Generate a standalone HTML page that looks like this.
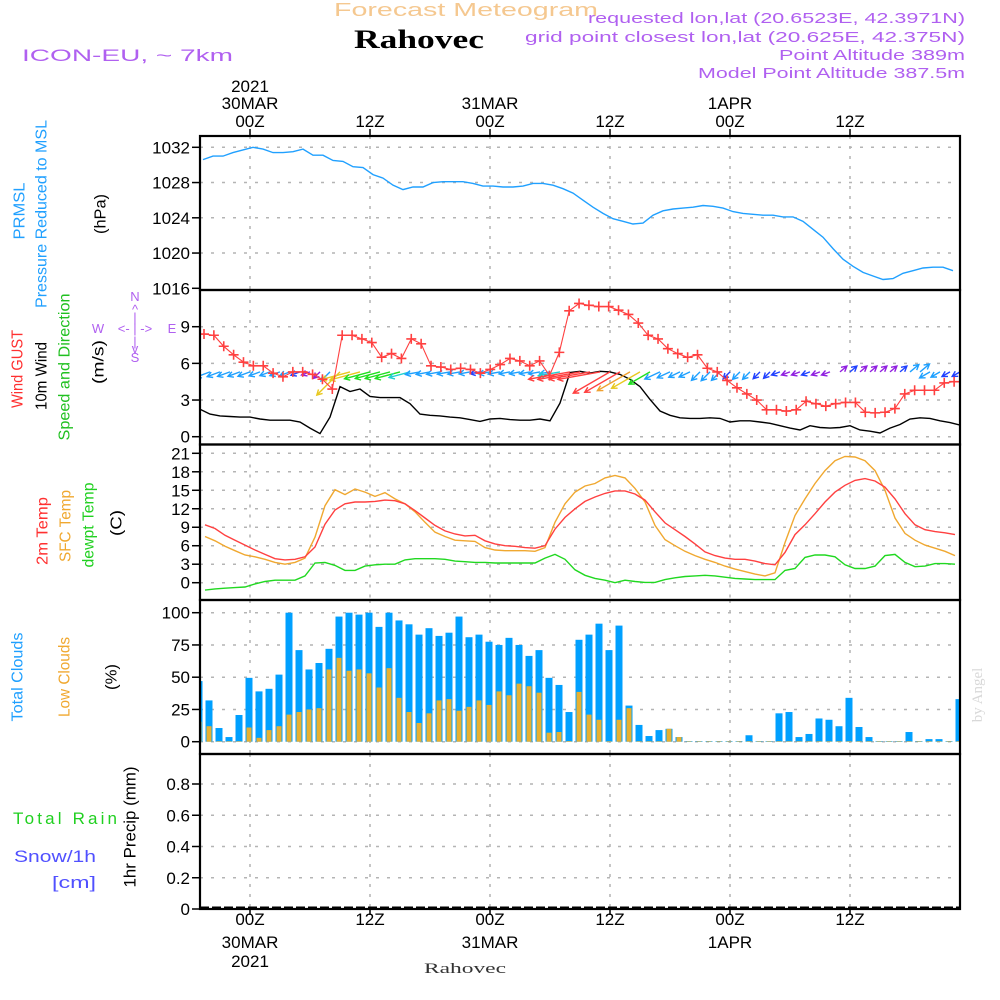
<!DOCTYPE html>
<html><head><meta charset="utf-8"><title>Meteogram Rahovec</title>
<style>
html,body{margin:0;padding:0;background:#fff;}
svg{display:block;font-family:"Liberation Sans",sans-serif;}
.tk{font-size:17px;fill:#000;}
.lab{font-size:16px;}
</style></head>
<body>
<svg id="chart" width="1000" height="1000" viewBox="0 0 1000 1000" xmlns="http://www.w3.org/2000/svg">
<rect x="0" y="0" width="1000" height="1000" fill="#fff"/>
<text x="466" y="16" text-anchor="middle" font-size="18" fill="#f5c890" textLength="264" lengthAdjust="spacingAndGlyphs">Forecast Meteogram</text>
<text x="419" y="48" text-anchor="middle" font-family="Liberation Serif, serif" font-weight="bold" font-size="26" fill="#000" textLength="130" lengthAdjust="spacingAndGlyphs">Rahovec</text>
<text x="22" y="61" font-size="17" fill="#b060f0" textLength="211" lengthAdjust="spacingAndGlyphs">ICON-EU, ~ 7km</text>
<g fill="#b060f0" font-size="15" text-anchor="end">
<text x="965" y="23" textLength="377" lengthAdjust="spacingAndGlyphs">requested lon,lat (20.6523E, 42.3971N)</text>
<text x="965" y="42" textLength="440" lengthAdjust="spacingAndGlyphs">grid point closest lon,lat (20.625E, 42.375N)</text>
<text x="965" y="60" textLength="186" lengthAdjust="spacingAndGlyphs">Point Altitude 389m</text>
<text x="965" y="78" textLength="267" lengthAdjust="spacingAndGlyphs">Model Point Altitude 387.5m</text>
</g>
<g class="lab">
<text transform="rotate(-90 20 211)" x="20" y="211" text-anchor="middle" dominant-baseline="central" fill="#20a0ff" textLength="57" lengthAdjust="spacingAndGlyphs">PRMSL</text>
<text transform="rotate(-90 42 214)" x="42" y="214" text-anchor="middle" dominant-baseline="central" fill="#20a0ff" textLength="188" lengthAdjust="spacingAndGlyphs">Pressure Reduced to MSL</text>
<text transform="rotate(-90 101 214)" x="101" y="214" text-anchor="middle" dominant-baseline="central" fill="#000" textLength="40" lengthAdjust="spacingAndGlyphs">(hPa)</text>
<text transform="rotate(-90 18 369)" x="18" y="369" text-anchor="middle" dominant-baseline="central" fill="#ff3030" textLength="78" lengthAdjust="spacingAndGlyphs">Wind GUST</text>
<text transform="rotate(-90 42 376)" x="42" y="376" text-anchor="middle" dominant-baseline="central" fill="#000" textLength="68" lengthAdjust="spacingAndGlyphs">10m Wind</text>
<text transform="rotate(-90 65 367)" x="65" y="367" text-anchor="middle" dominant-baseline="central" fill="#20c020" textLength="147" lengthAdjust="spacingAndGlyphs">Speed and Direction</text>
<text transform="rotate(-90 99 362)" x="99" y="362" text-anchor="middle" dominant-baseline="central" fill="#000" textLength="44" lengthAdjust="spacingAndGlyphs">(m/s)</text>
<text transform="rotate(-90 43 531)" x="43" y="531" text-anchor="middle" dominant-baseline="central" fill="#ff3030" textLength="68" lengthAdjust="spacingAndGlyphs">2m Temp</text>
<text transform="rotate(-90 66 526)" x="66" y="526" text-anchor="middle" dominant-baseline="central" fill="#f0a830" textLength="72" lengthAdjust="spacingAndGlyphs">SFC Temp</text>
<text transform="rotate(-90 89 525)" x="89" y="525" text-anchor="middle" dominant-baseline="central" fill="#20d020" textLength="85" lengthAdjust="spacingAndGlyphs">dewpt Temp</text>
<text transform="rotate(-90 117 523)" x="117" y="523" text-anchor="middle" dominant-baseline="central" fill="#000" textLength="26" lengthAdjust="spacingAndGlyphs">(C)</text>
<text transform="rotate(-90 18 677)" x="18" y="677" text-anchor="middle" dominant-baseline="central" fill="#20a0ff" textLength="89" lengthAdjust="spacingAndGlyphs">Total Clouds</text>
<text transform="rotate(-90 65 677)" x="65" y="677" text-anchor="middle" dominant-baseline="central" fill="#f0a830" textLength="80" lengthAdjust="spacingAndGlyphs">Low Clouds</text>
<text transform="rotate(-90 112 677)" x="112" y="677" text-anchor="middle" dominant-baseline="central" fill="#000" textLength="26" lengthAdjust="spacingAndGlyphs">(%)</text>
<text x="13" y="824" fill="#20d020" font-size="17" textLength="104" lengthAdjust="spacing">Total   Rain</text>
<text x="14" y="862" fill="#5050ff" font-size="17" textLength="82" lengthAdjust="spacingAndGlyphs">Snow/1h</text>
<text x="52" y="888" fill="#5050ff" font-size="17" textLength="44" lengthAdjust="spacingAndGlyphs">[cm]</text>
<text transform="rotate(-90 130 827)" x="130" y="827" text-anchor="middle" dominant-baseline="central" fill="#000" font-size="17" textLength="121" lengthAdjust="spacingAndGlyphs">1hr Precip (mm)</text>
</g>
<g fill="#b060f0" font-size="13" text-anchor="middle">
<text x="135" y="301">N</text><text x="135" y="314">^</text><text x="135" y="322">|</text>
<text x="98" y="333">W</text><text x="135" y="333">&lt;- | -&gt;</text><text x="172" y="333">E</text>
<text x="135" y="346">|</text><text x="135" y="353">v</text><text x="135" y="362">S</text>
</g>
<text transform="rotate(-90 978 695)" x="978" y="695" text-anchor="middle" dominant-baseline="central" font-family="Liberation Serif, serif" font-size="15" fill="#d8d8d8">by Angel</text>
<text x="465" y="973" text-anchor="middle" font-family="Liberation Serif, serif" font-size="15" fill="#333" textLength="82" lengthAdjust="spacingAndGlyphs">Rahovec</text>
<g id="layer"></g>
</svg>
<script>
var timeTickHours = [0, 12, 24, 36, 48, 60];
var timeTickHour = ["00Z", "12Z", "00Z", "12Z", "00Z", "12Z"];
var timeTickDay = ["30MAR", "", "31MAR", "", "1APR", ""];
var timeTickYear = ["2021", "", "", "", "", ""];

var pressTicks = [1016, 1020, 1024, 1028, 1032];
var windTicks = [0, 3, 6, 9];
var tempTicks = [0, 3, 6, 9, 12, 15, 18, 21];
var cloudTicks = [0, 25, 50, 75, 100];
var precipTicks = [0, 0.2, 0.4, 0.6, 0.8];
var precipTickLabels = ["0", "0.2", "0.4", "0.6", "0.8"];

var pressStartHour = -4.7;
var pressure = [1030.6,1031.0,1031.0,1031.4,1031.7,1032.0,1031.8,1031.4,1031.4,1031.5,
1031.8,1031.1,1031.1,1030.5,1030.4,1029.8,1029.7,1028.9,1028.5,1027.7,
1027.2,1027.5,1027.5,1028.0,1028.1,1028.1,1028.1,1027.9,1027.6,1027.6,
1027.5,1027.5,1027.6,1027.9,1027.9,1027.7,1027.3,1026.8,1026.0,1025.2,
1024.5,1023.9,1023.6,1023.3,1023.4,1024.3,1024.8,1025.0,1025.1,1025.2,
1025.4,1025.3,1025.1,1024.7,1024.5,1024.4,1024.3,1024.3,1024.1,1024.1,
1023.6,1022.7,1021.8,1020.5,1019.3,1018.5,1017.8,1017.4,1017.0,1017.1,
1017.7,1018.0,1018.3,1018.4,1018.4,1018.0];

var gustStartHour = -4.6;
var windGust = [8.4,8.3,7.4,6.7,6.1,5.8,5.8,5.2,4.9,5.3,5.3,5.1,4.7,3.9,8.3,8.3,8.0,7.7,6.5,6.8,
6.4,8.0,7.6,5.8,5.7,5.5,5.6,5.5,5.2,5.5,5.9,6.4,6.2,5.8,6.2,5.0,6.9,10.3,10.9,
10.75,10.65,10.65,10.35,10.0,9.3,8.3,8.0,7.2,6.8,6.5,6.7,5.6,5.3,4.6,4.0,3.5,3.0,2.2,2.2,
2.1,2.2,2.9,2.7,2.5,2.7,2.8,2.8,2.0,1.95,2.0,2.3,3.5,3.8,3.8,3.8,4.4,4.5];

var windStartHour = -5;
var wind10m = [2.25,1.85,1.7,1.65,1.6,1.6,1.45,1.35,1.35,1.35,1.2,0.7,0.25,1.6,4.1,3.7,3.9,3.3,3.2,3.2,
3.2,2.7,1.85,1.75,1.7,1.6,1.55,1.4,1.25,1.45,1.5,1.4,1.35,1.35,1.45,1.3,2.75,5.25,
5.35,5.2,5.35,5.3,5.1,4.7,4.1,3.05,2.1,1.75,1.55,1.5,1.5,1.55,1.5,1.2,1.3,1.3,1.2,1.1,0.9,0.7,
0.55,0.9,0.75,0.7,0.75,0.9,0.55,0.45,0.3,0.7,1.0,1.45,1.55,1.5,1.3,1.15,0.95];
var windDirFrom = [70,70,70,70,70,70,70,70,70,70,70,70,
45,45,45,
75,75,75,75,75,75,75,
80,80,80,80,80,80,80,80,80,80,80,80,80,80,80,80,80,80,80,
60,60,60,60,60,
65,65,65,65,
45,45,45,45,45,45,45,45,
70,70,70,70,70,70,
230,230,230,230,230,230,230,230,230,
60,60,60,60];
var arrowBaseSpeed = 5.3;

var tempStartHour = -4.5;
var temp2m = [9.4,8.8,7.7,6.9,6.1,5.3,4.6,3.9,3.7,3.8,4.2,5.8,9.5,11.8,12.8,13.1,13.1,13.2,13.4,13.3,
12.8,11.7,10.5,9.3,8.4,7.9,7.6,7.7,6.8,6.3,6.0,5.9,5.7,5.6,6.0,8.7,10.6,12.0,13.2,13.9,
14.5,14.9,14.9,14.4,13.4,11.5,9.7,8.6,7.5,6.3,5.0,4.4,4.0,3.8,3.8,3.5,3.1,2.9,4.9,7.8,
9.4,11.2,13.1,14.7,15.8,16.6,16.9,16.5,15.5,13.6,11.2,9.4,8.6,8.3,8.1,7.8];
var tempSfc = [7.5,6.8,5.9,5.2,4.5,4.2,3.8,3.3,3.0,3.3,4.0,7.4,12.5,15.1,14.3,15.2,14.7,14.0,14.6,13.6,
12.8,11.5,9.8,8.2,7.5,6.9,6.8,6.7,5.7,5.3,5.2,5.2,5.2,5.1,5.7,9.8,12.8,14.7,15.7,16.1,
17.0,17.4,17.0,15.3,13.1,9.3,7.0,6.0,5.1,4.4,3.8,3.3,2.7,2.2,1.8,1.4,1.1,1.6,6.5,10.9,
13.6,16.1,18.2,19.8,20.5,20.4,19.8,18.2,15.0,10.5,8.0,6.9,6.1,5.6,5.1,4.4];
var tempDew = [-1.2,-1.0,-0.9,-0.8,-0.7,-0.2,0.2,0.4,0.4,0.4,1.1,3.2,3.3,2.8,2.0,2.0,2.7,2.9,3.0,3.0,
3.7,3.9,3.9,3.9,3.8,3.5,3.4,3.3,3.3,3.2,3.2,3.2,3.2,3.2,4.0,4.6,3.8,2.1,1.2,0.7,
0.4,0.0,0.4,0.2,0.05,0.05,0.5,0.8,1.0,1.1,1.2,1.1,0.9,0.7,0.6,0.5,0.5,0.5,2.0,2.3,
4.1,4.5,4.5,4.2,2.9,2.3,2.3,2.7,4.4,4.6,3.3,2.6,2.7,3.1,3.1,3.0];

var cloudStartHour = -5;
var totalClouds = [47,32,10.6,3.6,20.7,49.5,39,41,52,100,71,56,61,72,97,100,98.5,100,89,100,
94,91,83,88,82,84.5,97,81,83,77.5,75,80.5,75,66.5,71,49.5,44,23,79,83,
91.5,71,90,28,13,4.4,9,10,3.6,0.5,0.5,0.5,0.5,0.5,0.5,5,0.5,0.5,22,23,
3.6,6,18,17,12,34,11.4,3.6,0.5,0.5,0.5,7.5,0.5,2,2,0.5,33];
var lowClouds = [15.5,12,0,0,0,11,3,9,12,21,23,25,26,56,65,55,56,53,42,57,
34,23,14.5,22,32,33,24,27,32,28.5,39,36,45,43,38,7,7.5,0.5,38.6,21,
17,0,17,26,0,0,0,10,3.6,0,0,0,0,0,0,0,0,0,0,0,
0,0,0,0,0,0,0,0,0,0,0,0,0,0,0,0,0];

var X0 = 200, X1 = 960;
function xH(h){ return 250 + 10*h; }
function lin(v0,y0,v1,y1){ return function(v){ return y0 + (v - v0)*(y1 - y0)/(v1 - v0); }; }
var panels = [
 {name:"pressure", top:136, bot:290, y:lin(1016,288.3,1032,147.3), ticks:pressTicks, labels:pressTicks.map(String)},
 {name:"wind", top:290, bot:444.5, y:lin(0,436.7,9,326.7), ticks:windTicks, labels:windTicks.map(String)},
 {name:"temperature", top:444.5, bot:600, y:lin(0,582.7,21,453.3), ticks:tempTicks, labels:tempTicks.map(String)},
 {name:"clouds", top:600, bot:754, y:lin(0,741.7,100,612.7), ticks:cloudTicks, labels:cloudTicks.map(String)},
 {name:"precip", top:754, bot:909, y:lin(0,909,0.8,784), ticks:precipTicks, labels:precipTickLabels}
];
var NS = "http://www.w3.org/2000/svg";
var layer = document.getElementById("layer");
function mk(tag, parent){ var e = document.createElementNS(NS, tag); (parent||layer).appendChild(e); return e; }

var defs = mk("defs");
panels.forEach(function(p, i){
  var cp = mk("clipPath", defs); cp.setAttribute("id", "clip" + i);
  var r = mk("rect", cp); r.setAttribute("x", X0); r.setAttribute("y", p.top); r.setAttribute("width", X1 - X0); r.setAttribute("height", p.bot - p.top);
});

panels.forEach(function(p, i){
  var g = mk("g");
  
  
  p.ticks.forEach(function(t, j){
    var yy = p.y(t);
    if (Math.abs(yy - p.bot) > 2 && Math.abs(yy - p.top) > 2) {
      var gl = mk("line", g);
      
      
      gl.setAttribute("x1", X0); gl.setAttribute("x2", X1); gl.setAttribute("y1", yy); gl.setAttribute("y2", yy);
      gl.setAttribute("stroke", "#b4b4b4"); gl.setAttribute("stroke-width", "1.5"); gl.setAttribute("stroke-dasharray", "3,8");
    }
    var tk = mk("line", g);
    
    
    tk.setAttribute("x1", X0 - 8); tk.setAttribute("x2", X0); tk.setAttribute("y1", yy); tk.setAttribute("y2", yy);
    tk.setAttribute("stroke", "#000"); tk.setAttribute("stroke-width", "1.5");
    var tl = mk("text", g);
    
    
    tl.setAttribute("x", X0 - 10); tl.setAttribute("y", yy + 6); tl.setAttribute("text-anchor", "end"); tl.setAttribute("class", "tk");
    tl.textContent = p.labels[j];
  });
  timeTickHours.forEach(function(h){
    var vl = mk("line", g);
    
    
    vl.setAttribute("x1", xH(h)); vl.setAttribute("x2", xH(h)); vl.setAttribute("y1", p.top); vl.setAttribute("y2", p.bot);
    vl.setAttribute("stroke", "#b4b4b4"); vl.setAttribute("stroke-width", "1.5"); vl.setAttribute("stroke-dasharray", "3,7");
  });
});

function polyline(vals, start, step, yf, color, name, clipIdx, width){
  var pts = vals.map(function(v, i){ return xH(start + i*step).toFixed(1) + "," + yf(v).toFixed(1); }).join(" ");
  var pl = mk("polyline");
  
  
  pl.setAttribute("points", pts); pl.setAttribute("fill", "none"); pl.setAttribute("stroke", color);
  pl.setAttribute("stroke-width", width || 1.4); pl.setAttribute("clip-path", "url(#clip" + clipIdx + ")");
  return pl;
}

polyline(pressure, pressStartHour, 1, panels[0].y, "#20a0ff", "pressure-line", 0);

var cy = panels[3].y;
var cg = mk("g"); cg.setAttribute("clip-path", "url(#clip3)");


totalClouds.forEach(function(v, i){
  var xc = xH(cloudStartHour + i) - 1;
  var b = mk("rect", cg);
  
  
  b.setAttribute("x", xc - 3.5); b.setAttribute("width", 7); b.setAttribute("y", cy(v)); b.setAttribute("height", cy(0) - cy(v)); b.setAttribute("fill", "#00a0ff");
  var lv = lowClouds[i];
  var lb = mk("rect", cg);
  
  
  lb.setAttribute("x", xc - 2.5); lb.setAttribute("width", 5); lb.setAttribute("y", cy(Math.max(lv, 0.4))); lb.setAttribute("height", cy(0) - cy(Math.max(lv, 0.4))); lb.setAttribute("fill", "#e8b030");
});

polyline(tempDew, tempStartHour, 1, panels[2].y, "#20d820", "dewpoint-line", 2);
polyline(tempSfc, tempStartHour, 1, panels[2].y, "#f0a830", "sfc-temp-line", 2);
polyline(temp2m, tempStartHour, 1, panels[2].y, "#ff4040", "temp-2m-line", 2);

var wy = panels[1].y;
polyline(wind10m, windStartHour, 1, wy, "#000", "wind-10m-line", 1);
function speedColor(s){
  if (s < 0.8) return "#9020e0";
  if (s < 1.3) return "#2040ff";
  if (s < 2.4) return "#1ea0ff";
  if (s < 3.0) return "#20d0d0";
  if (s < 3.6) return "#20e020";
  if (s < 4.5) return "#e8c820";
  if (s < 5.0) return "#f0a030";
  return "#ff4040";
}
var ag = mk("g"); ag.setAttribute("clip-path", "url(#clip1)");


windDirFrom.forEach(function(d, i){
  var s = wind10m[i];
  var len = Math.max(9, s*8);
  var b = (d + 180) * Math.PI/180;
  var dx = Math.sin(b), dy = -Math.cos(b);
  var x0 = xH(windStartHour + i), y0 = wy(arrowBaseSpeed);
  var x1 = x0 + dx*len, y1 = y0 + dy*len;
  var a1 = Math.atan2(dy, dx);
  var hl = 6;
  var hx1 = x1 - hl*Math.cos(a1 - 0.5), hy1 = y1 - hl*Math.sin(a1 - 0.5);
  var hx2 = x1 - hl*Math.cos(a1 + 0.5), hy2 = y1 - hl*Math.sin(a1 + 0.5);
  var ar = mk("path", ag);
  
  
  ar.setAttribute("d", "M" + x0.toFixed(1) + "," + y0.toFixed(1) + "L" + x1.toFixed(1) + "," + y1.toFixed(1) +
    "M" + hx1.toFixed(1) + "," + hy1.toFixed(1) + "L" + x1.toFixed(1) + "," + y1.toFixed(1) + "L" + hx2.toFixed(1) + "," + hy2.toFixed(1));
  ar.setAttribute("stroke", speedColor(s)); ar.setAttribute("stroke-width", "1.4"); ar.setAttribute("fill", "none");
});
polyline(windGust, gustStartHour, 0.987, wy, "#ff4040", "wind-gust-line", 1, 1.1);
var gg = mk("g"); gg.setAttribute("clip-path", "url(#clip1)");


windGust.forEach(function(v, i){
  var x = xH(gustStartHour + i*0.987), y = wy(v);
  var m = mk("path", gg);
  
  
  m.setAttribute("d", "M" + (x-5) + "," + y + "h10M" + x + "," + (y-5) + "v10");
  m.setAttribute("stroke", "#ff4040"); m.setAttribute("stroke-width", "1.6");
});

var pz = mk("line");


pz.setAttribute("x1", X0); pz.setAttribute("x2", X1); pz.setAttribute("y1", 907.5); pz.setAttribute("y2", 907.5);
pz.setAttribute("stroke", "#000"); pz.setAttribute("stroke-width", "2"); pz.setAttribute("stroke-dasharray", "9,3");

panels.forEach(function(p){
  var fr = mk("rect");
  
  
  fr.setAttribute("x", X0); fr.setAttribute("y", p.top); fr.setAttribute("width", X1 - X0); fr.setAttribute("height", p.bot - p.top);
  fr.setAttribute("fill", "none"); fr.setAttribute("stroke", "#000"); fr.setAttribute("stroke-width", "2.2");
});

timeTickHours.forEach(function(h, i){
  var x = xH(h);
  var t1 = mk("line");
  
  
  t1.setAttribute("x1", x); t1.setAttribute("x2", x); t1.setAttribute("y1", 129); t1.setAttribute("y2", 136); t1.setAttribute("stroke", "#000"); t1.setAttribute("stroke-width", "1.5");
  var t2 = mk("line");
  
  
  t2.setAttribute("x1", x); t2.setAttribute("x2", x); t2.setAttribute("y1", 909); t2.setAttribute("y2", 915); t2.setAttribute("stroke", "#000"); t2.setAttribute("stroke-width", "1.5");
  var rows = [[timeTickYear[i], 92], [timeTickDay[i], 109], [timeTickHour[i], 127]];
  rows.forEach(function(r){
    if (!r[0]) return;
    var tt = mk("text");
    
    
    tt.setAttribute("x", x); tt.setAttribute("y", r[1]); tt.setAttribute("text-anchor", "middle"); tt.setAttribute("class", "tk");
    tt.textContent = r[0];
  });
  var rowsB = [[timeTickHour[i], 925], [timeTickDay[i], 948], [timeTickYear[i], 967]];
  rowsB.forEach(function(r){
    if (!r[0]) return;
    var tb = mk("text");
    
    
    tb.setAttribute("x", x); tb.setAttribute("y", r[1]); tb.setAttribute("text-anchor", "middle"); tb.setAttribute("class", "tk");
    tb.textContent = r[0];
  });
});
</script>
</body></html>
